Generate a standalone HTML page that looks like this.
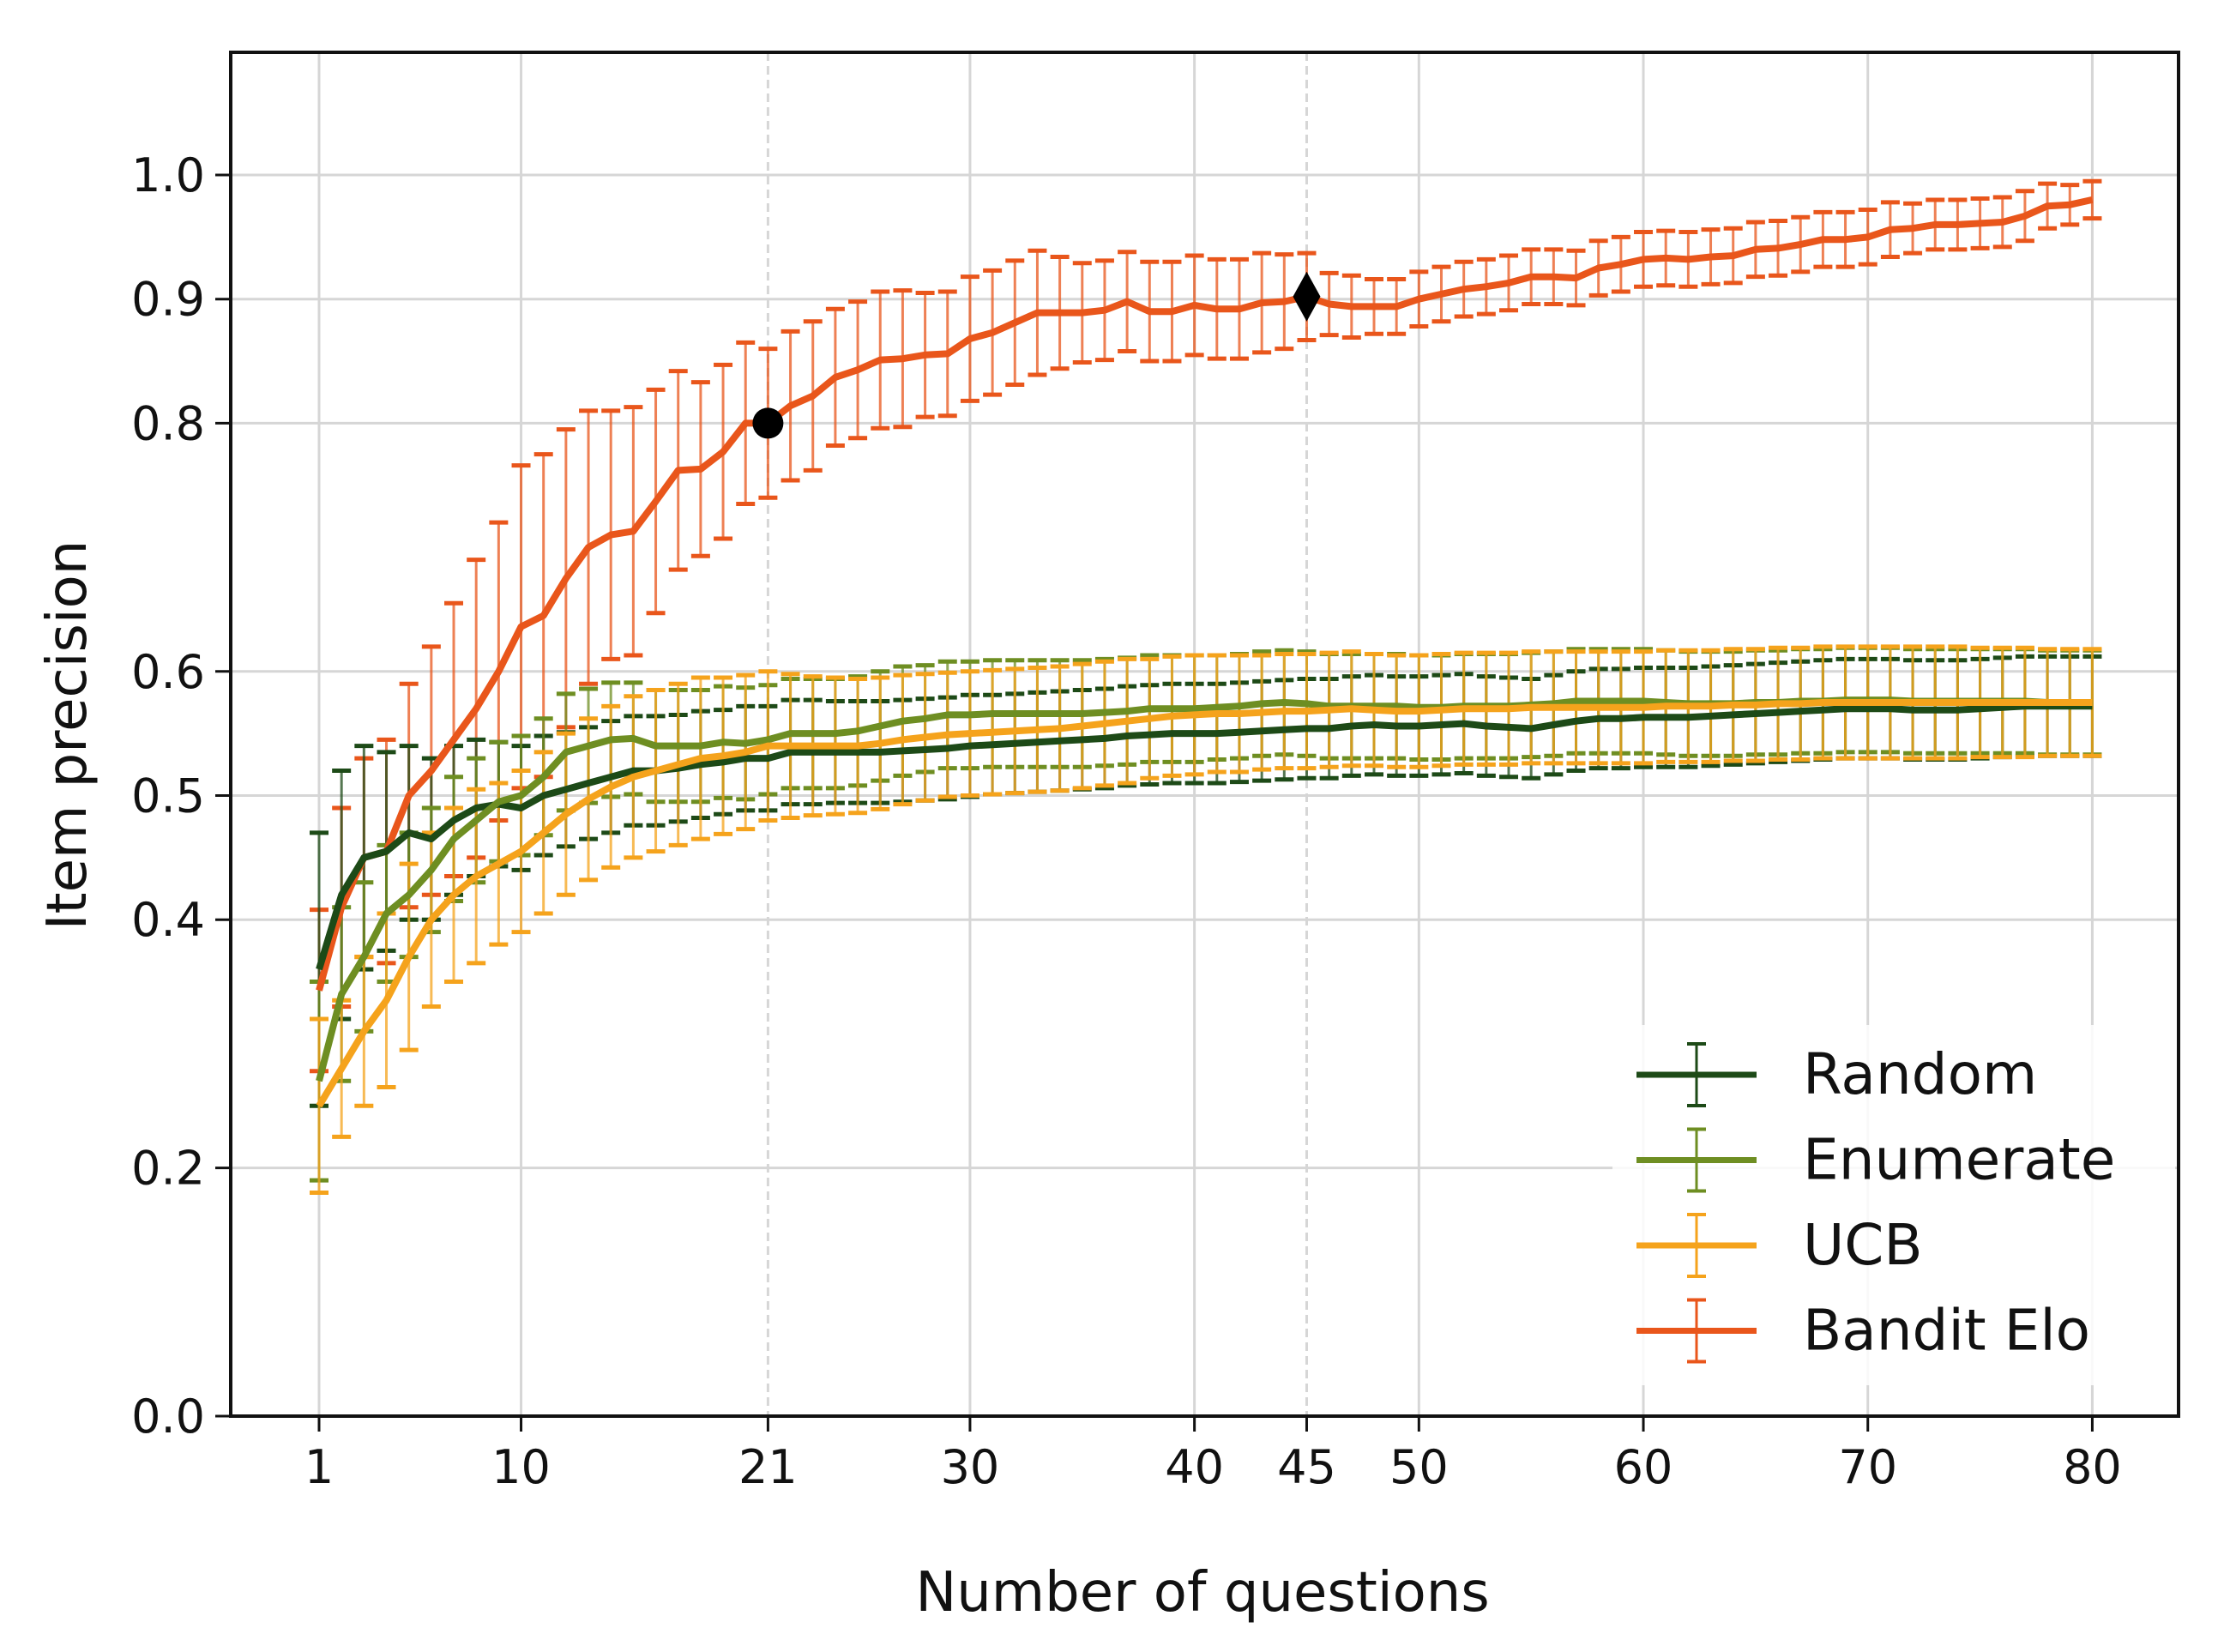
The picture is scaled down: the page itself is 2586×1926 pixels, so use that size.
<!DOCTYPE html>
<html><head><meta charset="utf-8">
<style>
html,body{margin:0;padding:0;background:#fff;}
svg{display:block;font-family:"DejaVu Sans","Liberation Sans",sans-serif;}
</style></head>
<body>
<svg id="chart" width="2586" height="1926" viewBox="0 0 2586 1926" xmlns="http://www.w3.org/2000/svg">
<g id="grid"></g>
<g id="series"></g>
<rect x="269" y="61" width="2271" height="1590" fill="none" stroke="#111" stroke-width="4"/>
<g id="ticks"></g>
<text x="1402" y="1878" font-size="64" text-anchor="middle" fill="#111">Number of questions</text>
<text transform="translate(100,857) rotate(-90)" font-size="64" text-anchor="middle" fill="#111">Item precision</text>
<g id="legend"></g>
</svg>
<script>
const xTicks=[1,10,21,30,40,45,50,60,70,80];
const yTicks=[0.0,0.2,0.4,0.5,0.6,0.8,0.9,1.0];
const seriesNames=["Random","Enumerate","UCB","Bandit Elo"];
const randomVals=[0.36,0.42,0.45,0.455,0.47,0.465,0.48,0.49,0.493,0.49,0.50,0.505,0.51,0.515,0.52,0.52,0.522,0.525,0.527,0.53,0.53,0.535,0.535,0.535,0.535,0.535,0.536,0.537,0.538,0.54,0.541,0.542,0.543,0.544,0.545,0.546,0.548,0.549,0.55,0.55,0.55,0.551,0.552,0.553,0.554,0.554,0.556,0.557,0.556,0.556,0.557,0.558,0.556,0.555,0.554,0.557,0.56,0.562,0.562,0.563,0.563,0.563,0.564,0.565,0.566,0.567,0.568,0.569,0.57,0.57,0.57,0.569,0.569,0.569,0.57,0.571,0.572,0.572,0.572,0.572];
const randomErr=[0.11,0.1,0.09,0.08,0.07,0.065,0.06,0.055,0.05,0.05,0.048,0.046,0.045,0.045,0.044,0.044,0.043,0.043,0.042,0.042,0.042,0.042,0.042,0.041,0.041,0.041,0.041,0.041,0.041,0.041,0.04,0.04,0.04,0.04,0.04,0.04,0.04,0.04,0.04,0.04,0.04,0.04,0.04,0.04,0.04,0.04,0.04,0.04,0.04,0.04,0.04,0.04,0.04,0.04,0.04,0.04,0.04,0.04,0.04,0.04,0.04,0.04,0.04,0.04,0.04,0.04,0.04,0.04,0.04,0.04,0.04,0.04,0.04,0.04,0.04,0.04,0.04,0.04,0.04,0.04];
const enumVals=[0.27,0.34,0.37,0.405,0.42,0.44,0.465,0.48,0.495,0.50,0.515,0.535,0.54,0.545,0.546,0.54,0.54,0.54,0.543,0.542,0.545,0.55,0.55,0.55,0.552,0.556,0.56,0.562,0.565,0.565,0.566,0.566,0.566,0.566,0.566,0.567,0.568,0.57,0.57,0.57,0.571,0.572,0.574,0.575,0.574,0.572,0.572,0.572,0.572,0.571,0.571,0.572,0.572,0.572,0.573,0.574,0.576,0.576,0.576,0.576,0.575,0.574,0.574,0.574,0.575,0.575,0.576,0.576,0.577,0.577,0.577,0.576,0.576,0.576,0.576,0.576,0.576,0.575,0.575,0.575];
const enumErr=[0.08,0.07,0.06,0.055,0.05,0.05,0.05,0.05,0.048,0.048,0.047,0.047,0.046,0.046,0.045,0.045,0.045,0.045,0.045,0.045,0.044,0.044,0.044,0.044,0.044,0.044,0.044,0.043,0.043,0.043,0.043,0.043,0.043,0.043,0.043,0.043,0.043,0.043,0.043,0.043,0.042,0.042,0.042,0.042,0.042,0.042,0.042,0.042,0.042,0.042,0.042,0.042,0.042,0.042,0.042,0.042,0.042,0.042,0.042,0.042,0.042,0.042,0.042,0.042,0.042,0.042,0.042,0.042,0.042,0.042,0.042,0.042,0.042,0.042,0.042,0.042,0.042,0.042,0.042,0.042];
const ucbVals=[0.25,0.28,0.31,0.335,0.37,0.40,0.42,0.435,0.445,0.455,0.47,0.485,0.497,0.507,0.515,0.52,0.525,0.53,0.532,0.535,0.54,0.54,0.54,0.54,0.54,0.542,0.545,0.547,0.549,0.55,0.551,0.552,0.553,0.554,0.556,0.558,0.56,0.562,0.564,0.565,0.566,0.566,0.567,0.568,0.568,0.569,0.57,0.569,0.568,0.568,0.569,0.57,0.57,0.57,0.571,0.571,0.571,0.571,0.571,0.571,0.572,0.572,0.572,0.573,0.573,0.574,0.574,0.575,0.575,0.575,0.575,0.575,0.575,0.575,0.575,0.575,0.575,0.575,0.575,0.575];
const ucbErr=[0.07,0.055,0.06,0.07,0.075,0.07,0.07,0.07,0.065,0.065,0.065,0.065,0.065,0.065,0.065,0.065,0.065,0.065,0.063,0.062,0.06,0.058,0.056,0.055,0.054,0.053,0.052,0.051,0.05,0.05,0.05,0.05,0.05,0.05,0.05,0.05,0.05,0.048,0.048,0.048,0.047,0.047,0.046,0.046,0.046,0.046,0.046,0.045,0.045,0.045,0.045,0.045,0.045,0.045,0.045,0.045,0.045,0.045,0.045,0.045,0.045,0.045,0.045,0.045,0.045,0.045,0.045,0.045,0.045,0.045,0.045,0.045,0.045,0.045,0.044,0.044,0.044,0.043,0.043,0.043];
const eloVals=[0.343,0.41,0.45,0.455,0.50,0.52,0.545,0.57,0.60,0.636,0.645,0.675,0.70,0.71,0.713,0.737,0.762,0.763,0.777,0.80,0.80,0.814,0.822,0.837,0.843,0.851,0.852,0.855,0.856,0.868,0.873,0.881,0.889,0.889,0.889,0.891,0.898,0.89,0.89,0.895,0.892,0.892,0.897,0.898,0.902,0.896,0.894,0.894,0.894,0.90,0.904,0.908,0.91,0.913,0.918,0.918,0.917,0.925,0.928,0.932,0.933,0.932,0.934,0.935,0.94,0.941,0.944,0.948,0.948,0.95,0.956,0.957,0.96,0.96,0.961,0.962,0.967,0.975,0.976,0.98];
const eloErr=[0.065,0.08,0.08,0.09,0.09,0.10,0.11,0.12,0.12,0.13,0.13,0.12,0.11,0.10,0.10,0.09,0.08,0.07,0.07,0.065,0.06,0.06,0.06,0.055,0.055,0.055,0.055,0.05,0.05,0.05,0.05,0.05,0.05,0.045,0.04,0.04,0.04,0.04,0.04,0.04,0.04,0.04,0.04,0.038,0.035,0.025,0.025,0.022,0.022,0.022,0.022,0.022,0.022,0.022,0.022,0.022,0.022,0.022,0.022,0.022,0.022,0.022,0.022,0.022,0.022,0.022,0.022,0.022,0.022,0.022,0.022,0.02,0.02,0.02,0.02,0.02,0.02,0.018,0.016,0.015];
const markerCircle=[21,0.80];
const markerDiamond=[45,0.902];

const NS="http://www.w3.org/2000/svg";
const X0=269,X1=2540,Y0=61,Y1=1651;
function xs(v){return 372+(v-1)*26.17;}
function ys(v){return 1651-v*1447;}
function mk(tag,attrs,parent){const e=document.createElementNS(NS,tag);for(const k in attrs)e.setAttribute(k,attrs[k]);parent.appendChild(e);return e;}
const grid=document.getElementById('grid'),ticks=document.getElementById('ticks'),ser=document.getElementById('series'),leg=document.getElementById('legend');

xTicks.forEach(t=>{
  const dashed=(t===21||t===45);
  const g=mk('line',{x1:xs(t),x2:xs(t),y1:Y0,y2:Y1,stroke:'#d6d6d6','stroke-width':3,'stroke-dasharray':dashed?'10,6':'none'},grid);
  
  
  const tk=mk('line',{x1:xs(t),x2:xs(t),y1:Y1,y2:Y1+18,stroke:'#111','stroke-width':3},ticks);
  
  
  const tl=mk('text',{x:xs(t),y:Y1+78,'font-size':54,'text-anchor':'middle',fill:'#111'},ticks);
  tl.textContent=String(t);
  
  
});
yTicks.forEach(t=>{
  if(t>0){
    const g=mk('line',{x1:X0,x2:X1,y1:ys(t),y2:ys(t),stroke:'#d6d6d6','stroke-width':3},grid);
    
    
  }
  const tk=mk('line',{x1:X0-18,x2:X0,y1:ys(t),y2:ys(t),stroke:'#111','stroke-width':3},ticks);
  
  
  const tl=mk('text',{x:X0-30,y:ys(t)+19,'font-size':54,'text-anchor':'end',fill:'#111'},ticks);
  tl.textContent=t.toFixed(1);
  
  
});

const colors=['#1d4a17','#6e8e22','#f5a31c','#e9561b'];
const allVals=[randomVals,enumVals,ucbVals,eloVals];
const allErr=[randomErr,enumErr,ucbErr,eloErr];
const slugs=['random','enumerate','ucb','bandit-elo'];
[3,0,1,2].forEach(si=>{
  const g=mk('g',{},ser);
  
  
  allVals[si].forEach((v,i)=>{
    const x=xs(i+1),lo=ys(v-allErr[si][i]),hi=ys(v+allErr[si][i]);
    mk('line',{x1:x,x2:x,y1:lo,y2:hi,stroke:colors[si],'stroke-width':3,opacity:0.75},g);
    mk('line',{x1:x-11,x2:x+11,y1:lo,y2:lo,stroke:colors[si],'stroke-width':5},g);
    mk('line',{x1:x-11,x2:x+11,y1:hi,y2:hi,stroke:colors[si],'stroke-width':5},g);
  });
});
[3,0,1,2].forEach(si=>{
  const pts=allVals[si].map((v,i)=>xs(i+1).toFixed(1)+','+ys(v).toFixed(1)).join(' ');
  const p=mk('polyline',{points:pts,fill:'none',stroke:colors[si],'stroke-width':8,'stroke-linejoin':'round'},ser);
  
  
});
const c=mk('circle',{cx:xs(markerCircle[0]),cy:ys(markerCircle[1]),r:18,fill:'#000'},ser);


const dx=xs(markerDiamond[0]),dy=ys(markerDiamond[1]);
const d=mk('polygon',{points:`${dx},${dy-29} ${dx+16},${dy} ${dx},${dy+29} ${dx-16},${dy}`,fill:'#000'},ser);



const bg=mk('rect',{x:1880,y:1195,width:656,height:420,fill:'#fff',opacity:0.85},leg);


seriesNames.forEach((n,i)=>{
  const y=1253+i*99.5;
  const e=mk('g',{},leg);
  
  
  mk('line',{x1:1908,x2:2048,y1:y,y2:y,stroke:colors[i],'stroke-width':7},e);
  mk('line',{x1:1978,x2:1978,y1:y-36,y2:y+36,stroke:colors[i],'stroke-width':3},e);
  mk('line',{x1:1967,x2:1989,y1:y-36,y2:y-36,stroke:colors[i],'stroke-width':4},e);
  mk('line',{x1:1967,x2:1989,y1:y+36,y2:y+36,stroke:colors[i],'stroke-width':4},e);
  const t=mk('text',{x:2102,y:y+22,'font-size':66,fill:'#111'},e);
  t.textContent=n;
});
</script>
</body></html>
